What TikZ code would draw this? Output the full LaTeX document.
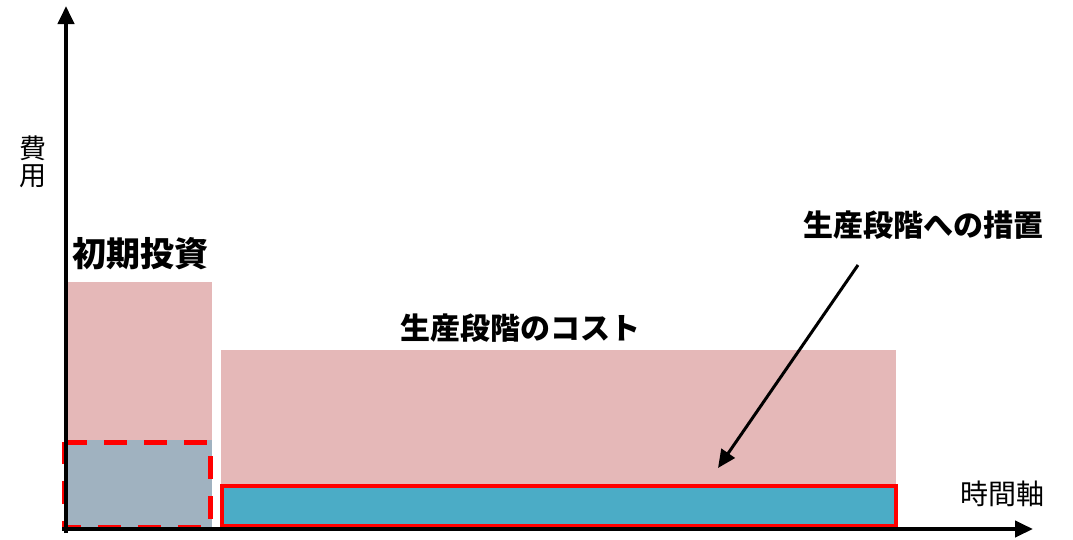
\documentclass[tikz,border=0pt]{standalone}
\usepackage{fontspec}
\newfontfamily\jp{Noto Sans CJK JP}
\usetikzlibrary{arrows.meta}
\definecolor{pinkfill}{HTML}{E5B8B8}
\definecolor{greyblue}{HTML}{A0B2C0}
\definecolor{tealfill}{HTML}{4BACC6}
\definecolor{redline}{HTML}{FF0000}
\tikzset{
  axis/.style={line width=4pt,-{Triangle[length=18pt,width=16pt]}},
  bigbold/.style={font=\jp\bfseries\fontsize{30}{32}\selectfont,inner sep=0pt},
  label/.style={font=\jp\fontsize{28}{30}\selectfont,inner sep=0pt},
  pointer/.style={line width=3pt,-{Triangle[length=18pt,width=16pt]}}
}
\begin{document}
\begin{tikzpicture}[x=1pt,y=-1pt]
\useasboundingbox (0,0) rectangle (1073,539);
% bars
\fill[pinkfill] (67,282) rectangle (212,529);
\fill[pinkfill] (221,350) rectangle (896,487);
\fill[greyblue] (66,440) rectangle (212,529);
\draw[redline,line width=5pt,dash pattern=on 23pt off 17pt] (64,442) -- (210,442) -- (210,527) -- (64,527) -- cycle;
\draw[fill=tealfill,draw=redline,line width=4pt] (222,486) rectangle (896,526);
% axes
\coordinate (ytop) at (66,6);
\coordinate (xend) at (1033,529);
\coordinate (xstart) at (62,529);
\coordinate (ybot) at (66,533);
\draw[axis] (ybot) -- (ytop);
\draw[axis] (xstart) -- (xend);
% labels
\node[bigbold,font=\jp\bfseries\fontsize{34}{36}\selectfont] (init) at (140,254) {初期投資};
\node[bigbold] (prod) at (520,328) {生産段階のコスト};
\node[bigbold,anchor=east] (meas) at (1044,225) {生産段階への措置};
\node[label,font=\jp\fontsize{27}{30}\selectfont,align=center] (cost) at (33,162) {費\\[-3pt]用};
\node[label] (time) at (1002,494) {時間軸};
% pointer
\coordinate (ptip) at (718,468);
\coordinate (pstart) at (858,265);
\draw[pointer] (pstart) -- (ptip);
\end{tikzpicture}
\end{document}
